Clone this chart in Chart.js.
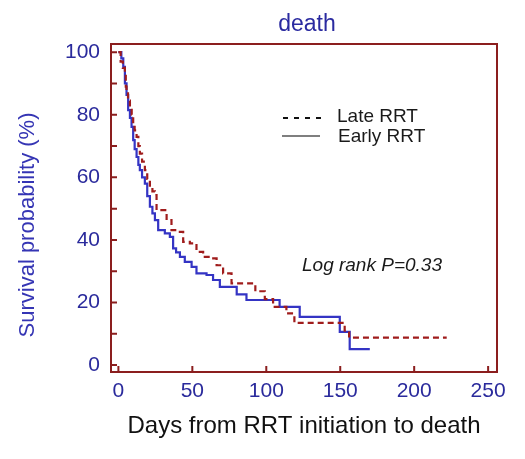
<!DOCTYPE html>
<html>
<head>
<meta charset="utf-8">
<script src="https://cdn.jsdelivr.net/npm/chart.js@4.4.1/dist/chart.umd.min.js"></script>
<style>
  html, body { margin: 0; padding: 0; background: #fff; }
  #wrap { width: 525px; height: 459px; }
</style>
</head>
<body>
<div id="wrap"><canvas id="km"></canvas></div>
<script>
// Kaplan-Meier steps (days, survival %)
const lateDays = [0, 1.5, 3, 4.4, 5, 5.5, 6.5, 7.8, 9, 10, 11, 12.3, 13.5, 14.5, 16, 17.9, 19.5, 21.3, 23, 24.7,
  25.8, 32.6, 35.9, 40.4, 43.8, 48.3, 52.8, 57.3, 61.8, 66.4, 70.8, 76.5, 92.6, 99, 104.6, 113.6, 119, 153, 156, 222];
const lateSurv = [100, 97, 95, 93, 89, 86.8, 84.5, 82.5, 80, 77.2, 75, 72.9, 70, 67.6, 65, 62.3, 59.5, 57, 55.5, 54.3,
  49.5, 46.3, 43.1, 42.6, 39.4, 38.9, 36.2, 34.6, 34.1, 31.9, 29.3, 26.1, 23.6, 21.1, 18.6, 16.5, 13.5, 11, 8.8, 8.8];

const earlyDays = [0, 2, 3.3, 4.4, 5.5, 6.6, 7.8, 8.9, 10, 11, 12.3, 13.5, 14.5, 16, 17.9, 19.5, 21.3, 23, 24.7, 26.9,
  31.4, 34.8, 37, 39, 41.6, 44.9, 49.5, 52.8, 59.6, 64, 68.6, 80, 86.6, 109, 122.6, 149.7, 156.4, 170];
const earlySurv = [100, 98, 95.3, 90, 86.3, 81.5, 79, 76.1, 71.9, 69, 66.5, 64, 62.3, 60, 58, 54, 50.6, 48.5, 46.3, 43.1,
  42.1, 41, 37.3, 36, 34.6, 33, 31.4, 29.3, 28.8, 27.2, 25, 22.6, 20.8, 18.6, 15.4, 10.6, 5.1, 5.1];

const seriesNames = ["Late RRT", "Early RRT"];
const xTicks = [0, 50, 100, 150, 200, 250];
const yTicks = [0, 20, 40, 60, 80, 100];
const yMinorTicks = [10, 30, 50, 70, 90];

const FONT = "'Liberation Sans', Arial, sans-serif";
const frameColor = "#8b1e1e";
const tickBlue = "#2a2a9c";

function toPoints(xs, ys) {
  return xs.map((v, i) => ({ x: v, y: ys[i] }));
}

const extras = {
  id: "extras",
  afterDatasetsDraw(chart) {
    const { ctx, chartArea: a, scales: { x, y } } = chart;
    ctx.save();

    // frame + inward ticks
    ctx.strokeStyle = frameColor;
    ctx.lineWidth = 2;
    ctx.strokeRect(a.left, a.top, a.right - a.left, a.bottom - a.top);
    ctx.beginPath();
    xTicks.forEach(v => {
      const px = x.getPixelForValue(v);
      ctx.moveTo(px, a.bottom);
      ctx.lineTo(px, a.bottom - 6);
    });
    yTicks.concat(yMinorTicks).forEach(v => {
      const py = y.getPixelForValue(v);
      ctx.moveTo(a.left, py);
      ctx.lineTo(a.left + 6, py);
    });
    ctx.stroke();

    // title, centred over the plot box
    ctx.fillStyle = "#2a2aa0";
    ctx.font = "23px " + FONT;
    ctx.textAlign = "center";
    ctx.textBaseline = "middle";
    ctx.fillText("death", (a.left + a.right) / 2 + 3, 25);

    // y axis title
    ctx.save();
    ctx.translate(28, 225);
    ctx.rotate(-Math.PI / 2);
    ctx.fillStyle = "#3535b4";
    ctx.font = "22px " + FONT;
    ctx.fillText("Survival probability (%)", 0, 0);
    ctx.restore();

    // legend
    ctx.fillStyle = "#1a1a1a";
    ctx.font = "19px " + FONT;
    ctx.textAlign = "left";
    ctx.fillText(seriesNames[0], 337, 117);
    ctx.fillText(seriesNames[1], 338, 137);
    ctx.lineWidth = 2;
    ctx.strokeStyle = "#111";
    ctx.setLineDash([5, 6]);
    ctx.beginPath();
    ctx.moveTo(283, 118);
    ctx.lineTo(322, 118);
    ctx.stroke();
    ctx.setLineDash([]);
    ctx.lineWidth = 1.5;
    ctx.strokeStyle = "#555";
    ctx.beginPath();
    ctx.moveTo(282, 136);
    ctx.lineTo(320, 136);
    ctx.stroke();

    // log rank note
    ctx.fillStyle = "#1a1a1a";
    ctx.font = "italic 19px " + FONT;
    ctx.fillText("Log rank P=0.33", 302, 266);

    ctx.restore();
  }
};

new Chart(document.querySelector("#km"), {
  type: "line",
  data: {
    datasets: [
      {
        label: seriesNames[0],
        data: toPoints(lateDays, lateSurv),
        borderColor: "#a01c1c",
        borderWidth: 2.2,
        borderDash: [6, 4],
        stepped: true,
        pointRadius: 0,
        fill: false,
      },
      {
        label: seriesNames[1],
        data: toPoints(earlyDays, earlySurv),
        borderColor: "#3434c4",
        borderWidth: 2.2,
        stepped: true,
        pointRadius: 0,
        fill: false,
      },
    ],
  },
  options: {
    responsive: true,
    maintainAspectRatio: false,
    animation: false,
    layout: { padding: { left: 0, right: 28, top: 44, bottom: 0 } },
    plugins: {
      legend: { display: false },
      tooltip: { enabled: false },
      title: { display: false },
    },
    scales: {
      x: {
        type: "linear",
        min: -5,
        max: 256,
        afterBuildTicks: s => { s.ticks = xTicks.map(v => ({ value: v })); },
        afterFit: s => { s.height = 87; },
        grid: { display: false, drawTicks: false },
        border: { display: false },
        ticks: {
          color: tickBlue,
          padding: 7,
          maxRotation: 0,
          font: { family: FONT, size: 21 },
        },
        title: {
          display: true,
          text: "Days from RRT initiation to death",
          color: "#111",
          font: { family: FONT, size: 24 },
          padding: { top: 0, bottom: 18 },
        },
      },
      y: {
        min: -2.2,
        max: 102.6,
        afterBuildTicks: s => { s.ticks = yTicks.map(v => ({ value: v })); },
        afterFit: s => { s.width = 111; },
        grid: { display: false, drawTicks: false },
        border: { display: false },
        ticks: {
          color: tickBlue,
          padding: 11,
          font: { family: FONT, size: 21 },
        },
      },
    },
  },
  plugins: [extras],
});
</script>
</body>
</html>
